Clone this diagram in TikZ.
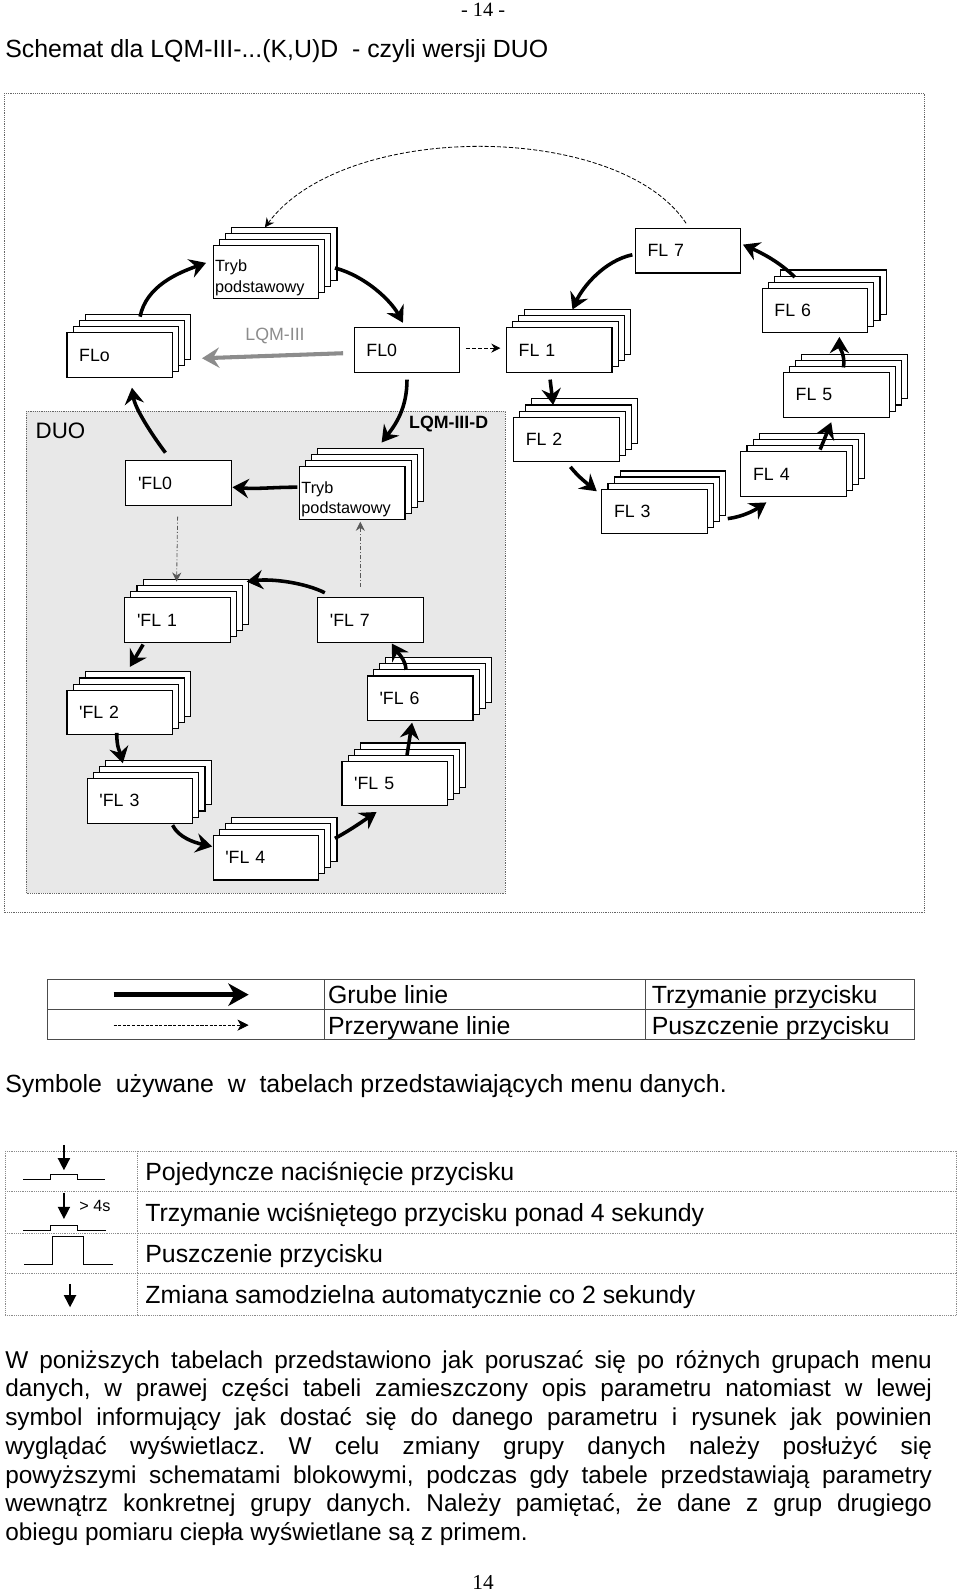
\documentclass[tikz,border=0pt]{standalone}
\usepackage{fontspec}
\newfontfamily\arialfont{Liberation Sans}
\newfontfamily\timesfont{Liberation Serif}
\usetikzlibrary{arrows.meta,shadows}
\definecolor{duogray}{RGB}{232,232,232}
\newcommand{\ar}[2]{\arialfont\fontsize{#1}{#2}\selectfont}
\frenchspacing

\begin{document}
\begin{tikzpicture}[x=1pt, y=-1pt,
  flbox/.style={draw, fill=white, line width=1.1pt, minimum height=44pt,
    text width=80pt, inner xsep=12pt, inner ysep=0pt, align=left,
    font=\ar{17.5}{21}},
  trybbox/.style={flbox, minimum height=52pt, text width=100pt,
    inner xsep=2pt, font=\ar{16}{20}, execute at begin node={\rule{0pt}{23pt}}},
  layer/.style={general shadow={shadow xshift=#1, shadow yshift=#1,
    draw, fill=white, line width=1.1pt}},
  stack/.style={layer=18pt, layer=12pt, layer=6pt},
  hold/.style={line width=3.5pt, -{Stealth[length=16pt, width=19pt, inset=5.5pt]}},
  release/.style={line width=0.8pt, dash pattern=on 4pt off 2pt,
    -{Stealth[length=9pt, width=9pt, inset=3pt]}},
  duoline/.style={release, draw=black!65, dash pattern=on 4pt off 2pt on 1pt off 2pt},
  model/.style={line width=4pt, draw=black!45,
    -{Stealth[length=17pt, width=20pt, inset=6pt]}},
  frame/.style={draw=black!60, line width=0.8pt, densely dotted},
  legline/.style={draw=black!70, line width=1.1pt},
  tabline/.style={draw=black!45, line width=0.8pt, densely dotted},
  txt/.style={anchor=base west, inner sep=0pt, font=\ar{24.5}{28}},
  pulse/.style={line width=1pt},
  press/.style={line width=1.5pt, -{Triangle[length=12pt, width=12pt]}}]

\useasboundingbox (0,0) rectangle (945.8,1569.5);

\node[font=\timesfont\fontsize{20}{24}\selectfont, anchor=base] (pageno) at (476,16) {- 14 -};
\node[txt] (title) at (5,57) {Schemat dla LQM-III-...(K,U)D\ \ - czyli wersji DUO};

\draw[frame] (4,92) rectangle (911,899);
\draw[frame, fill=duogray] (26,405) rectangle (498,880);

\node[flbox, stack] (FLo) at (118,350) {FLo};
\node[trybbox, stack] (trybA) at (262,268) {Tryb\\podstawowy};
\node[flbox] (FL0) at (401,345) {FL0};
\node[flbox, stack] (FL1) at (551,345) {FL 1};
\node[flbox, stack] (FL2) at (558,433) {FL 2};
\node[flbox, stack] (FL3) at (645,504) {FL 3};
\node[flbox, stack] (FL4) at (782,467) {FL 4};
\node[flbox, stack] (FL5) at (824,389) {FL 5};
\node[flbox, stack] (FL6) at (803,306) {FL 6};
\node[flbox] (FL7) at (678,247) {FL 7};

\node[flbox] (pFL0) at (176,476) {'FL0};
\node[trybbox, stack] (trybB) at (347,486) {Tryb\\podstawowy};
\node[flbox, stack] (pFL1) at (175,611) {'FL 1};
\node[flbox] (pFL7) at (365,611) {'FL 7};
\node[flbox, stack] (pFL2) at (118,702) {'FL 2};
\node[flbox, stack] (pFL6) at (414,688) {'FL 6};
\node[flbox, stack] (pFL3) at (138,789) {'FL 3};
\node[flbox, stack] (pFL5) at (389,772) {'FL 5};
\node[flbox, stack] (pFL4) at (262,845) {'FL 4};

\node[anchor=west, inner sep=0pt, font=\ar{22}{26}] (duo) at (35,424) {DUO};
\node[inner sep=0pt, font=\ar{17.5}{21}\bfseries] (lqmd) at (442,418) {LQM-III-D};
\node[inner sep=0pt, text=black!45, font=\ar{17.5}{21}] (lqm) at (271,331) {LQM-III};

\draw[hold] ([shift={(20,-38)}]FLo.center) .. controls +(6,-30) and +(-28,10) .. ([shift={(-59,-9)}]trybA.center);
\draw[hold] ([shift={(68,-4)}]trybA.center) .. controls +(30,8) and +(-12,-22) .. ([shift={(-4,-27)}]FL0.center);
\draw[hold] ([shift={(0,29)}]FL0.center) .. controls +(0,28) and +(14,-18) .. ([shift={(29,-50)}]trybB.center);
\draw[model] ([shift={(-63,3)}]FL0.center) -- ([shift={(81,3)}]FLo.center);
\draw[release] ([shift={(58,-2)}]FL0.center) -- ([shift={(-58,-2)}]FL1.center);
\draw[release] ([shift={(-2,-27)}]FL7.center) .. controls (610,120) and (340,118) .. ([shift={(-1,-44)}]trybA.center);
\draw[hold] ([shift={(-55,4)}]FL7.center) .. controls +(-28,6) and +(10,-22) .. ([shift={(13,-40)}]FL1.center);
\draw[hold] ([shift={(-9,29)}]FL1.center) -- ([shift={(-13,-34)}]FL2.center);
\draw[hold] ([shift={(4,27)}]FL2.center) .. controls +(8,10) and +(-10,-8) .. ([shift={(-57,-20)}]FL3.center);
\draw[hold] ([shift={(72,7)}]FL3.center) .. controls +(15,-2) and +(-12,8) .. ([shift={(-27,28)}]FL4.center);
\draw[hold] ([shift={(26,-24)}]FL4.center) -- ([shift={(-5,27)}]FL5.center);
\draw[hold] ([shift={(7,-27)}]FL5.center) .. controls +(2,-12) and +(0,10) .. ([shift={(24,26)}]FL6.center);
\draw[hold] ([shift={(-20,-33)}]FL6.center) .. controls +(-15,-15) and +(18,8) .. ([shift={(54,-6)}]FL7.center);

\draw[hold] ([shift={(-13,-30)}]pFL0.center) .. controls +(-15,-20) and +(3,20) .. ([shift={(12,32)}]FLo.center);
\draw[hold] ([shift={(-54,-6)}]trybB.center) .. controls +(-25,0) and +(25,2) .. ([shift={(53,4)}]pFL0.center);
\draw[duoline] ([shift={(-1,33)}]pFL0.center) -- ([shift={(-1,-38)}]pFL1.center);
\draw[duoline] ([shift={(-10,-33)}]pFL7.center) -- ([shift={(8,28)}]trybB.center);
\draw[hold] ([shift={(-45,-27)}]pFL7.center) .. controls +(-20,-10) and +(25,-3) .. ([shift={(68,-38)}]pFL1.center);
\draw[hold] ([shift={(-34,24)}]pFL1.center) -- ([shift={(10,-45)}]pFL2.center);
\draw[hold] ([shift={(-3,20)}]pFL2.center) .. controls +(0,15) and +(-3,-12) .. ([shift={(-17,-37)}]pFL3.center);
\draw[hold] ([shift={(32,24)}]pFL3.center) .. controls +(6,12) and +(-18,-4) .. ([shift={(-53,-11)}]pFL4.center);
\draw[hold] ([shift={(68,-19)}]pFL4.center) .. controls +(15,-8) and +(-12,8) .. ([shift={(-18,28)}]pFL5.center);
\draw[hold] ([shift={(12,-28)}]pFL5.center) -- ([shift={(-8,24)}]pFL6.center);
\draw[hold] ([shift={(-14,-28)}]pFL6.center) .. controls +(0,-10) and +(5,8) .. ([shift={(21,23)}]pFL7.center);

\draw[legline] (47,965) rectangle (901,1024);
\draw[legline] (47,995) -- (901,995);
\draw[legline] (320,965) -- (320,1024);
\draw[legline] (636,965) -- (636,1024);
\coordinate (holdA) at (112,980);
\coordinate (holdB) at (245,980);
\coordinate (relA) at (112,1010);
\coordinate (relB) at (245,1010);
\draw[line width=5pt, -{Stealth[length=20pt, width=22pt, inset=6pt]}] (holdA) -- (holdB);
\draw[line width=0.8pt, dash pattern=on 3pt off 1.5pt,
  -{Stealth[length=11pt, width=11pt, inset=3pt]}] (relA) -- (relB);
\node[txt] (grube) at (323,989) {Grube linie};
\node[txt] (przer) at (323,1019) {Przerywane linie};
\node[txt] (trzym) at (642,989) {Trzymanie przycisku};
\node[txt] (puszcz) at (642,1019) {Puszczenie przycisku};

\node[txt] (symb) at (5,1076) {Symbole\ \ używane\ \ w\ \ tabelach przedstawiających menu danych.};

\foreach \y in {1134,1174,1215,1255,1296}
  \draw[tabline] (5,\y) -- (942,\y);
\foreach \x in {5,135,942}
  \draw[tabline] (\x,1134) -- (\x,1296);
\draw[press] (63,1128) -- (63,1153);
\draw[pulse] (23,1162) -- (50,1162) -- (50,1157) -- (76,1157) -- (76,1162) -- (103,1162);
\draw[press] (63,1175) -- (63,1201);
\node[anchor=west, inner sep=0pt, font=\ar{16}{19}] (four) at (78,1188) {> 4s};
\draw[pulse] (23,1212) -- (50,1212) -- (50,1207) -- (76,1207) -- (76,1212) -- (104,1212);
\draw[pulse] (24,1246) -- (52,1246) -- (52,1218) -- (82,1218) -- (82,1246) -- (111,1246);
\draw[press] (69,1265) -- (69,1288);
\node[txt] (pojed) at (143,1163) {Pojedyncze naciśnięcie przycisku};
\node[txt] (trzwc) at (143,1203) {Trzymanie wciśniętego przycisku ponad 4 sekundy};
\node[txt] (puszc) at (143,1244) {Puszczenie przycisku};
\node[txt] (zmiana) at (143,1284) {Zmiana samodzielna automatycznie co 2 sekundy};

\node[anchor=base west, inner sep=0pt, text width=913pt, align=justify,
  font=\ar{24}{28.3}] (para) at (5,1348)
  {W poniższych tabelach przedstawiono jak poruszać się po różnych grupach menu\linebreak
   danych, w prawej części tabeli zamieszczony opis parametru natomiast w lewej\linebreak
   symbol informujący jak dostać się do danego parametru i rysunek jak powinien\linebreak
   wyglądać wyświetlacz. W celu zmiany grupy danych należy posłużyć się\linebreak
   powyższymi schematami blokowymi, podczas gdy tabele przedstawiają parametry\linebreak
   wewnątrz konkretnej grupy danych. Należy pamiętać, że dane z grup drugiego\linebreak
   obiegu pomiaru ciepła wyświetlane są z primem.};

\node[font=\timesfont\fontsize{21}{25}\selectfont, anchor=base] (pagefoot) at (476,1566) {14};
\end{tikzpicture}
\end{document}
